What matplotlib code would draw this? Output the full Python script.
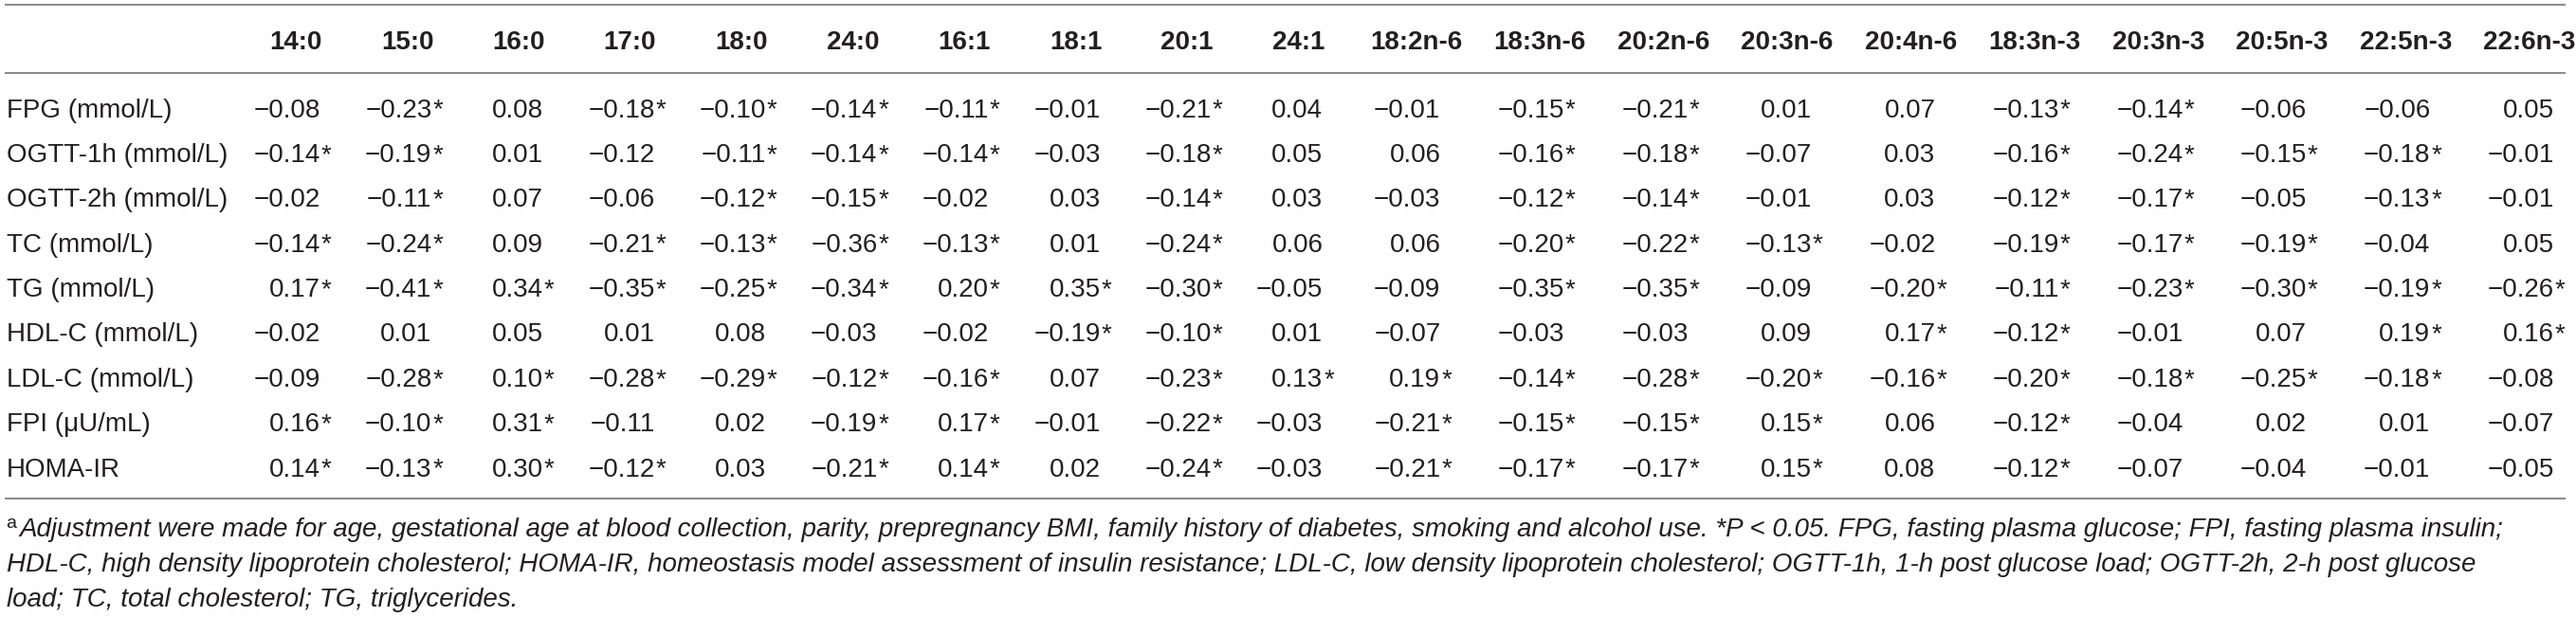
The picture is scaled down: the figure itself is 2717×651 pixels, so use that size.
import matplotlib
matplotlib.use("Agg")
import matplotlib.pyplot as plt

plt.rcParams['font.family'] = ['Liberation Sans', 'DejaVu Sans']

# fatty acid columns
columns = ["14:0", "15:0", "16:0", "17:0", "18:0", "24:0", "16:1", "18:1", "20:1", "24:1",
           "18:2n-6", "18:3n-6", "20:2n-6", "20:3n-6", "20:4n-6", "18:3n-3", "20:3n-3",
           "20:5n-3", "22:5n-3", "22:6n-3"]

row_labels = ["FPG (mmol/L)", "OGTT-1h (mmol/L)", "OGTT-2h (mmol/L)", "TC (mmol/L)", "TG (mmol/L)",
              "HDL-C (mmol/L)", "LDL-C (mmol/L)", "FPI (\u03bcU/mL)", "HOMA-IR"]

# values, * = P < 0.05
fpg = ["-0.08", "-0.23*", "0.08", "-0.18*", "-0.10*", "-0.14*", "-0.11*", "-0.01", "-0.21*", "0.04",
       "-0.01", "-0.15*", "-0.21*", "0.01", "0.07", "-0.13*", "-0.14*", "-0.06", "-0.06", "0.05"]
ogtt1h = ["-0.14*", "-0.19*", "0.01", "-0.12", "-0.11*", "-0.14*", "-0.14*", "-0.03", "-0.18*", "0.05",
          "0.06", "-0.16*", "-0.18*", "-0.07", "0.03", "-0.16*", "-0.24*", "-0.15*", "-0.18*", "-0.01"]
ogtt2h = ["-0.02", "-0.11*", "0.07", "-0.06", "-0.12*", "-0.15*", "-0.02", "0.03", "-0.14*", "0.03",
          "-0.03", "-0.12*", "-0.14*", "-0.01", "0.03", "-0.12*", "-0.17*", "-0.05", "-0.13*", "-0.01"]
tc = ["-0.14*", "-0.24*", "0.09", "-0.21*", "-0.13*", "-0.36*", "-0.13*", "0.01", "-0.24*", "0.06",
      "0.06", "-0.20*", "-0.22*", "-0.13*", "-0.02", "-0.19*", "-0.17*", "-0.19*", "-0.04", "0.05"]
tg = ["0.17*", "-0.41*", "0.34*", "-0.35*", "-0.25*", "-0.34*", "0.20*", "0.35*", "-0.30*", "-0.05",
      "-0.09", "-0.35*", "-0.35*", "-0.09", "-0.20*", "-0.11*", "-0.23*", "-0.30*", "-0.19*", "-0.26*"]
hdl = ["-0.02", "0.01", "0.05", "0.01", "0.08", "-0.03", "-0.02", "-0.19*", "-0.10*", "0.01",
       "-0.07", "-0.03", "-0.03", "0.09", "0.17*", "-0.12*", "-0.01", "0.07", "0.19*", "0.16*"]
ldl = ["-0.09", "-0.28*", "0.10*", "-0.28*", "-0.29*", "-0.12*", "-0.16*", "0.07", "-0.23*", "0.13*",
       "0.19*", "-0.14*", "-0.28*", "-0.20*", "-0.16*", "-0.20*", "-0.18*", "-0.25*", "-0.18*", "-0.08"]
fpi = ["0.16*", "-0.10*", "0.31*", "-0.11", "0.02", "-0.19*", "0.17*", "-0.01", "-0.22*", "-0.03",
       "-0.21*", "-0.15*", "-0.15*", "0.15*", "0.06", "-0.12*", "-0.04", "0.02", "0.01", "-0.07"]
homa = ["0.14*", "-0.13*", "0.30*", "-0.12*", "0.03", "-0.21*", "0.14*", "0.02", "-0.24*", "-0.03",
        "-0.21*", "-0.17*", "-0.17*", "0.15*", "0.08", "-0.12*", "-0.07", "-0.04", "-0.01", "-0.05"]

rows = [fpg, ogtt1h, ogtt2h, tc, tg, hdl, ldl, fpi, homa]

footnote = [
    "Adjustment were made for age, gestational age at blood collection, parity, prepregnancy BMI, "
    "family history of diabetes, smoking and alcohol use. *P < 0.05. FPG, fasting plasma glucose; "
    "FPI, fasting plasma insulin;",
    "HDL-C, high density lipoprotein cholesterol; HOMA-IR, homeostasis model assessment of insulin "
    "resistance; LDL-C, low density lipoprotein cholesterol; OGTT-1h, 1-h post glucose load; "
    "OGTT-2h, 2-h post glucose",
    "load; TC, total cholesterol; TG, triglycerides.",
]

W, H = 2717, 651
fig = plt.figure(figsize=(W / 100, H / 100), dpi=100)
ax = fig.add_axes([0, 0, 1, 1])
ax.set_xlim(0, W)
ax.set_ylim(H, 0)
ax.axis('off')

txt = '#231f20'
line_col = '#8c8c8c'
fs = 20

# column centres: narrow columns for short names, wider for "n-6"/"n-3"
centres = []
x = 312
for i, c in enumerate(columns):
    if i > 0:
        w_prev = 130.5 if 'n' in columns[i - 1] else 117.5
        w_cur = 130.5 if 'n' in c else 117.5
        x += (w_prev + w_cur) / 2
    centres.append(x)

# rules
ax.hlines([5, 77, 526], 5, 2706, colors=line_col, linewidth=1.5)

# header
for cx, c in zip(centres, columns):
    ax.text(cx, 52, c, ha='center', va='baseline', fontsize=fs, fontweight='bold', color=txt)

# body
for r, (lab, vals) in enumerate(zip(row_labels, rows)):
    yb = 123.5 + 47.4 * r
    ax.text(7, yb, lab, ha='left', va='baseline', fontsize=fs, color=txt)
    for cx, v in zip(centres, vals):
        num = v.rstrip('*').replace('-', '\u2212')
        xr = cx + 26
        ax.text(xr, yb, num, ha='right', va='baseline', fontsize=fs, color=txt)
        if v.endswith('*'):
            ax.text(xr + 1, yb, '*', ha='left', va='baseline', fontsize=fs, color=txt)

# footnote (superscript a, then italic text)
ax.text(6, 557, 'a', ha='left', va='baseline', fontsize=14, color=txt)
for i, line in enumerate(footnote):
    x0 = 20 if i == 0 else 7
    ax.text(x0, 566 + 37 * i, line, ha='left', va='baseline', fontsize=fs, style='italic', color=txt)

fig.savefig('out.png', dpi=100)
